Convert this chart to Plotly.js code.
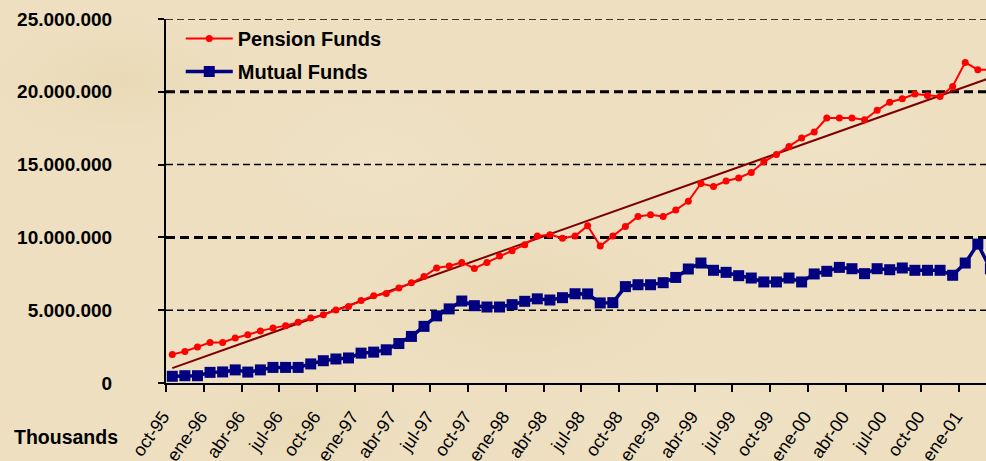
<!DOCTYPE html>
<html>
<head>
<meta charset="utf-8">
<script src="https://cdn.plot.ly/plotly-3.0.1.min.js"></script>
<style>
  html, body { margin: 0; padding: 0; }
  body {
    background-color: #EDDFC0;
    background-image:
      radial-gradient(ellipse 180px 90px at 120px 80px, rgba(220,198,150,0.22), rgba(220,198,150,0) 70%),
      radial-gradient(ellipse 220px 110px at 520px 300px, rgba(220,198,150,0.20), rgba(220,198,150,0) 70%),
      radial-gradient(ellipse 200px 100px at 820px 140px, rgba(245,234,208,0.35), rgba(245,234,208,0) 70%),
      radial-gradient(ellipse 160px 80px at 300px 420px, rgba(220,198,150,0.20), rgba(220,198,150,0) 70%),
      radial-gradient(ellipse 240px 90px at 700px 420px, rgba(245,234,208,0.30), rgba(245,234,208,0) 70%),
      radial-gradient(ellipse 200px 120px at 380px 160px, rgba(245,234,208,0.30), rgba(245,234,208,0) 70%);
  }
  #chart { width: 986px; height: 461px; }
</style>
</head>
<body>
<div id="chart"></div>
<script>
// Months (Spanish abbreviations), oct-95 .. mar-01
const months = [
  "oct-95","nov-95","dic-95","ene-96","feb-96","mar-96","abr-96","may-96","jun-96","jul-96","ago-96","sep-96",
  "oct-96","nov-96","dic-96","ene-97","feb-97","mar-97","abr-97","may-97","jun-97","jul-97","ago-97","sep-97",
  "oct-97","nov-97","dic-97","ene-98","feb-98","mar-98","abr-98","may-98","jun-98","jul-98","ago-98","sep-98",
  "oct-98","nov-98","dic-98","ene-99","feb-99","mar-99","abr-99","may-99","jun-99","jul-99","ago-99","sep-99",
  "oct-99","nov-99","dic-99","ene-00","feb-00","mar-00","abr-00","may-00","jun-00","jul-00","ago-00","sep-00",
  "oct-00","nov-00","dic-00","ene-01","feb-01","mar-01"
];

// Values in thousands
const pensionFunds = [
  1960000, 2170000, 2470000, 2790000, 2790000, 3090000, 3310000, 3580000, 3770000, 3940000,
  4180000, 4460000, 4680000, 5010000, 5260000, 5670000, 6000000, 6140000, 6520000, 6880000,
  7310000, 7900000, 8030000, 8280000, 7870000, 8280000, 8730000, 9090000, 9500000, 10090000,
  10190000, 9940000, 10090000, 10800000, 9410000, 10090000, 10750000, 11440000, 11560000, 11440000,
  11880000, 12480000, 13700000, 13500000, 13870000, 14080000, 14460000, 15190000, 15700000, 16250000,
  16820000, 17240000, 18200000, 18200000, 18200000, 18080000, 18730000, 19280000, 19520000, 19850000,
  19740000, 19680000, 20370000, 22020000, 21520000, 21520000
];

const mutualFunds = [
  460000, 500000, 500000, 730000, 760000, 900000, 750000, 900000, 1070000, 1070000,
  1070000, 1310000, 1530000, 1650000, 1720000, 2050000, 2120000, 2280000, 2710000, 3200000,
  3890000, 4610000, 5090000, 5630000, 5310000, 5220000, 5220000, 5380000, 5610000, 5780000,
  5700000, 5860000, 6130000, 6120000, 5500000, 5520000, 6620000, 6750000, 6750000, 6890000,
  7250000, 7830000, 8240000, 7740000, 7600000, 7370000, 7210000, 6940000, 6940000, 7210000,
  6940000, 7490000, 7670000, 7940000, 7850000, 7510000, 7850000, 7780000, 7900000, 7740000,
  7740000, 7740000, 7400000, 8240000, 9540000, 7850000
];

const yTickValues = [0, 5000000, 10000000, 15000000, 20000000, 25000000];
const thinGridLevels = [5000000, 15000000, 25000000];
const thickGridLevels = [10000000, 20000000];

// positions = month index
const xIdx = months.map((m, i) => i);

// Linear trendline (least squares) of the pension series
const n = pensionFunds.length;
const mx = xIdx.reduce((a, b) => a + b, 0) / n;
const my = pensionFunds.reduce((a, b) => a + b, 0) / n;
let sxy = 0, sxx = 0;
for (let i = 0; i < n; i++) { sxy += (xIdx[i] - mx) * (pensionFunds[i] - my); sxx += (xIdx[i] - mx) ** 2; }
const slope = sxy / sxx, icpt = my - slope * mx;
const trendX = [xIdx[0], xIdx[n - 1]];
const trendY = trendX.map(x => icpt + slope * x);

// Quarterly ticks at boundaries between months
const tickIdx = xIdx.filter(i => i % 3 === 0 && i <= 63);
const tickVals = tickIdx.map(i => i - 0.5);
const tickText = tickIdx.map(i => months[i]);

const FONT = '"Liberation Sans", Arial, sans-serif';

const traces = [
  {
    x: trendX, y: trendY, type: 'scatter', mode: 'lines',
    line: { color: '#7F0000', width: 2 }, showlegend: false, hoverinfo: 'skip'
  },
  {
    x: xIdx, y: pensionFunds, type: 'scatter', mode: 'lines+markers', name: 'Pension Funds',
    line: { color: '#FF0000', width: 2 },
    marker: { color: '#FF0000', size: 7, symbol: 'circle' },
    legendgroup: 'a'
  },
  {
    x: xIdx, y: mutualFunds, type: 'scatter', mode: 'lines+markers', name: 'Mutual Funds',
    line: { color: '#000080', width: 3.5 },
    marker: { color: '#000080', size: 11, symbol: 'square' },
    legendgroup: 'b'
  }
];

const shapes = [];
thinGridLevels.forEach(v => shapes.push({
  type: 'line', xref: 'paper', x0: 0, x1: 1, yref: 'y', y0: v, y1: v, layer: 'below',
  line: { color: '#000000', width: 1.5, dash: '7px,4px' }
}));
thickGridLevels.forEach(v => shapes.push({
  type: 'line', xref: 'paper', x0: 0, x1: 1, yref: 'y', y0: v, y1: v, layer: 'below',
  line: { color: '#000000', width: 3, dash: '9px,5px' }
}));

const layout = {
  width: 986, height: 461,
  margin: { l: 166, r: 0, t: 19, b: 78 },
  paper_bgcolor: 'rgba(0,0,0,0)',
  plot_bgcolor: 'rgba(0,0,0,0)',
  separators: ',.',
  font: { family: FONT, color: '#000000' },
  showlegend: true,
  legend: {
    x: 0.018, y: 1.0, xanchor: 'left', yanchor: 'top',
    bgcolor: 'rgba(0,0,0,0)', borderwidth: 0,
    itemwidth: 47,
    font: { family: FONT, size: 20, color: '#000000', weight: 'bold' },
    tracegroupgap: 4
  },
  xaxis: {
    range: [-0.5, 64.65],
    showgrid: false, zeroline: false,
    showline: true, linecolor: '#000000', linewidth: 2,
    ticks: 'outside', ticklen: 7, tickwidth: 2, tickcolor: '#000000',
    tickmode: 'array', tickvals: tickVals, ticktext: tickText,
    tickangle: -55,
    ticklabelstandoff: 7,
    ticklabelshift: -3,
    tickfont: { family: FONT, size: 18, color: '#000000' }
  },
  yaxis: {
    range: [0, 25000000],
    showgrid: false, zeroline: false,
    showline: true, linecolor: '#000000', linewidth: 2,
    ticks: 'outside', ticklen: 6, tickwidth: 2, tickcolor: '#000000',
    tickmode: 'array', tickvals: yTickValues,
    tickformat: ',d',
    ticklabelstandoff: 42,
    tickfont: { family: FONT, size: 19, color: '#000000', weight: 'bold' }
  },
  shapes: shapes,
  annotations: [{
    text: 'Thousands', xref: 'paper', yref: 'paper',
    x: -0.188, y: -0.148, xanchor: 'left', yanchor: 'middle', showarrow: false,
    font: { family: FONT, size: 19.5, color: '#000000', weight: 'bold' }
  }]
};

Plotly.newPlot('chart', traces, layout, { staticPlot: true, displayModeBar: false });
</script>
</body>
</html>
